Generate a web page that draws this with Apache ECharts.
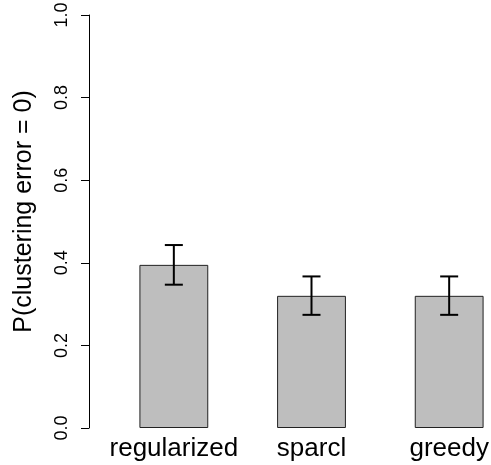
<!DOCTYPE html>
<html>
<head>
<meta charset="utf-8">
<script src="https://cdn.jsdelivr.net/npm/echarts@6/dist/echarts.min.js"></script>
<style>
  html, body { margin: 0; padding: 0; background: #ffffff; }
  #chart { width: 491px; height: 465px; }
</style>
</head>
<body>
<div id="chart"></div>
<script>
// Clustering methods and the estimated probability of zero clustering error
const methods = ['regularized', 'sparcl', 'greedy'];
const probMean = [0.395, 0.320, 0.320];
const probLower = [0.347, 0.274, 0.274];
const probUpper = [0.443, 0.367, 0.367];
const yTicks = [0, 0.2, 0.4, 0.6, 0.8, 1.0];

const FONT = '"Liberation Sans", Arial, Helvetica, sans-serif';

const chart = echarts.init(document.getElementById('chart'), null, { renderer: 'canvas' });

const errorData = methods.map((m, i) => [i, probLower[i], probUpper[i]]);

chart.setOption({
  animation: false,
  backgroundColor: '#ffffff',
  grid: {
    left: 105, top: 15, width: 413, height: 413,
    containLabel: false, outerBoundsMode: 'none'
  },
  xAxis: {
    type: 'category',
    data: methods,
    axisLine: { show: false },
    axisTick: { show: false },
    axisLabel: { color: '#000', fontFamily: FONT, fontSize: 26, margin: 8, interval: 0, hideOverlap: false }
  },
  yAxis: {
    type: 'value',
    min: yTicks[0],
    max: yTicks[yTicks.length - 1],
    interval: 0.2,
    offset: 16,
    name: 'P(clustering error = 0)',
    nameLocation: 'middle',
    nameGap: 52,
    nameRotate: 90,
    nameTextStyle: { color: '#000', fontFamily: FONT, fontSize: 25, padding: [0, 0, 0, 20] },
    axisLine: { show: true, lineStyle: { color: '#000', width: 1 } },
    axisTick: { show: true, length: 8, lineStyle: { color: '#000', width: 1 } },
    axisLabel: {
      color: '#000', fontFamily: FONT, fontSize: 18, rotate: 90, margin: 18,
      formatter: v => v.toFixed(1)
    },
    splitLine: { show: false }
  },
  series: [
    {
      type: 'bar',
      data: probMean,
      barWidth: '50%',
      itemStyle: { color: '#bebebe', borderColor: '#222', borderWidth: 1 }
    },
    {
      type: 'custom',
      data: errorData,
      z: 10,
      renderItem: function (params, api) {
        const idx = api.value(0);
        const lo = api.coord([idx, api.value(1)]);
        const hi = api.coord([idx, api.value(2)]);
        const cap = 9;
        const style = { stroke: '#000', lineWidth: 2, fill: null };
        return {
          type: 'group',
          children: [
            { type: 'line', shape: { x1: lo[0], y1: lo[1], x2: hi[0], y2: hi[1] }, style },
            { type: 'line', shape: { x1: hi[0] - cap, y1: hi[1], x2: hi[0] + cap, y2: hi[1] }, style },
            { type: 'line', shape: { x1: lo[0] - cap, y1: lo[1], x2: lo[0] + cap, y2: lo[1] }, style }
          ]
        };
      }
    }
  ]
});
</script>
</body>
</html>
